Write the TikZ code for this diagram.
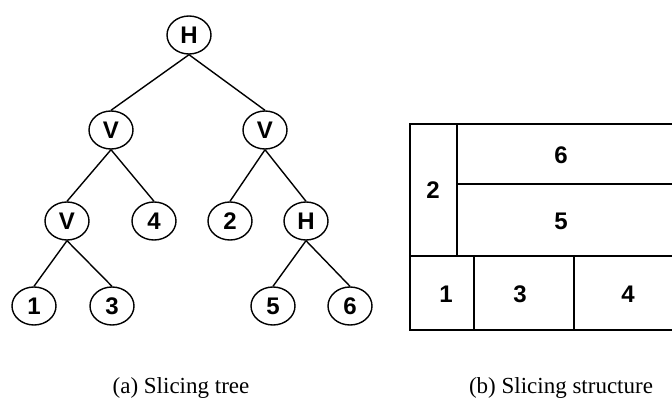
\documentclass[tikz,border=0pt]{standalone}
\usepackage{fontspec}
\setmainfont{Liberation Serif}
\newfontfamily\labelfont{Liberation Sans}
\usetikzlibrary{shapes.geometric}
\begin{document}
\begin{tikzpicture}[x=1pt,y=-1pt,
  tnode/.style={ellipse,draw,line width=1.4pt,minimum width=44pt,minimum height=38pt,
    inner sep=0pt,font=\labelfont\bfseries\fontsize{24}{24}\selectfont},
  tedge/.style={line width=1.4pt},
  cell/.style={font=\labelfont\bfseries\fontsize{24}{24}\selectfont},
  wall/.style={line width=1.6pt},
  caption/.style={font=\fontsize{23}{23}\selectfont,anchor=base}]
\useasboundingbox (0,0) rectangle (672,403);

% slicing tree
\node[tnode] (r)  at (189,35)  {H};
\node[tnode] (vl) at (111,130) {V};
\node[tnode] (vr) at (265,130) {V};
\node[tnode] (vv) at (67,221)  {V};
\node[tnode] (n4) at (154,221) {4};
\node[tnode] (n2) at (230,221) {2};
\node[tnode] (hh) at (306,221) {H};
\node[tnode] (n1) at (34,306)  {1};
\node[tnode] (n3) at (112,306) {3};
\node[tnode] (n5) at (273,306) {5};
\node[tnode] (n6) at (350,306) {6};

\foreach \p/\c in {r/vl,r/vr,vl/vv,vl/n4,vr/n2,vr/hh,vv/n1,vv/n3,hh/n5,hh/n6}
  \draw[tedge] (\p.south) -- (\c.north);

% slicing structure
\coordinate (tl) at (410,124);
\coordinate (tr) at (672,124);
\coordinate (bl) at (410,330);
\coordinate (br) at (672,330);
\coordinate (ml) at (410,256);
\coordinate (mr) at (672,256);
\coordinate (vt) at (457,124);
\coordinate (vb) at (457,256);
\coordinate (hl) at (457,184);
\coordinate (hr) at (672,184);
\coordinate (at) at (474,256);
\coordinate (ab) at (474,330);
\coordinate (bt) at (574,256);
\coordinate (bb) at (574,330);
\draw[wall] (tr) -- (tl) -- (bl) -- (br);
\draw[wall] (ml) -- (mr);
\draw[wall] (vt) -- (vb);
\draw[wall] (hl) -- (hr);
\draw[wall] (at) -- (ab);
\draw[wall] (bt) -- (bb);

\node[cell] (c2) at (433,190) {2};
\node[cell] (c6) at (561,155) {6};
\node[cell] (c5) at (561,221) {5};
\node[cell] (c1) at (446,294) {1};
\node[cell] (c3) at (520,294) {3};
\node[cell] (c4) at (628,294) {4};

% captions
\node[caption] (ca) at (181,393) {(a) Slicing tree};
\node[caption] (cb) at (561,393) {(b) Slicing structure};
\end{tikzpicture}
\end{document}
